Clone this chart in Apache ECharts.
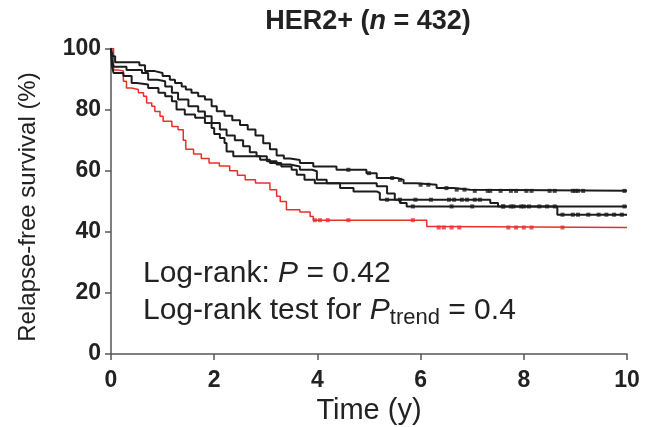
<!DOCTYPE html>
<html><head><meta charset="utf-8">
<script src="https://cdn.jsdelivr.net/npm/echarts@6/dist/echarts.min.js"></script>
<style>html,body{margin:0;padding:0;background:#fff}#c{width:649px;height:427px}</style>
</head><body><div id="c"></div>
<script>
// Kaplan-Meier step points [time (y), survival (%)]
const curveRed = [[0,100],[0.05,93],[0.13,92.6],[0.24,89.3],[0.30,87.1],[0.40,86.6],[0.53,85.5],[0.63,84.4],[0.69,82.2],[0.79,81.1],[0.85,79.4],[0.95,77.8],[1.01,76.2],[1.18,74.5],[1.30,73.4],[1.40,70],[1.45,67],[1.6,65.5],[1.75,64],[1.9,62.5],[2.1,61.5],[2.3,60],[2.45,58.5],[2.6,57],[2.8,56],[3.08,53.8],[3.21,51.6],[3.28,49.9],[3.40,47.2],[3.66,46.5],[3.86,45],[3.92,43.8],[6.12,41.7],[6.28,41.4],[10,41.4]];
const curveA = [[0,100],[0.03,97.5],[0.08,95.5],[0.55,94.5],[0.66,92.6],[0.85,92],[1.0,91],[1.14,89.8],[1.24,88.7],[1.37,87.6],[1.45,86.6],[1.56,85.5],[1.69,84.4],[1.82,83.3],[1.95,81.1],[2.05,79.5],[2.2,78],[2.35,76.5],[2.5,75],[2.65,73.5],[2.8,71.5],[2.95,69],[3.08,67],[3.21,65],[3.35,64],[3.47,63.5],[3.66,62.5],[3.92,61.4],[4.37,60.3],[4.95,59.2],[5.15,57.6],[5.54,57],[5.67,55.9],[5.92,55.4],[6.31,54.3],[6.63,53.8],[6.96,53.4],[10,53.4]];
const curveB = [[0,100],[0.02,96],[0.05,94],[0.3,93],[0.6,92],[0.72,89.8],[0.9,89.3],[1.05,87.6],[1.18,85.5],[1.30,83.3],[1.5,81.1],[1.69,79.4],[1.82,77.8],[1.95,75.6],[2.11,73.5],[2.24,71.5],[2.4,70],[2.56,68],[2.69,66],[2.82,64.7],[3.02,63.1],[3.21,62],[3.47,61.4],[3.66,60.3],[3.9,59.8],[3.99,57],[4.18,55.9],[4.44,54.3],[4.70,53.2],[5.15,52.7],[5.21,50.5],[7.35,49.4],[7.5,48.3],[8.65,45.6],[10,45.6]];
const curveC = [[0,100],[0.02,94],[0.05,92],[0.24,91],[0.40,88.7],[0.5,88.2],[0.72,87.1],[0.92,85.5],[1.05,84.4],[1.18,82.7],[1.27,80],[1.43,78.4],[1.63,77.3],[1.82,75.6],[1.95,74],[2.0,72],[2.11,70.7],[2.2,69.1],[2.24,66.3],[2.37,64.7],[2.8,64.7],[2.89,63.6],[3.08,62.5],[3.3,61.4],[3.5,60.3],[3.6,58.7],[3.75,57],[3.95,55.9],[5.15,54.9],[5.35,52.5],[5.5,50.5],[5.6,49.4],[5.73,48.3],[10,48.3]];
// censor marks [time, survival]
const censRed = [[3.95,43.8],[4.05,43.8],[4.2,43.8],[4.6,43.8],[5.85,43.8],[6.35,41.4],[6.45,41.4],[6.6,41.4],[6.75,41.4],[7.7,41.4],[7.85,41.4],[8.0,41.4],[8.15,41.4],[8.75,41.4]];
const censA = [[4.6,60.3],[5.0,59.2],[5.45,57.6],[5.6,57],[6.0,55.4],[6.15,55.4],[6.5,54.3],[6.7,53.8],[6.85,53.8],[7.05,53.4],[7.3,53.4],[7.35,53.4],[7.55,53.4],[7.75,53.4],[7.85,53.4],[8.05,53.4],[8.15,53.4],[8.5,53.4],[8.6,53.4],[8.95,53.4],[9.0,53.4],[9.05,53.4],[9.15,53.4],[9.95,53.4]];
const censB = [[5.35,50.5],[5.6,50.5],[5.9,50.5],[6.2,50.5],[6.55,50.5],[6.65,50.5],[6.8,50.5],[6.9,50.5],[7.05,50.5],[7.15,50.5],[7.6,48.3],[7.75,48.3],[8.0,48.3],[8.1,48.3],[8.3,48.3],[8.45,48.3],[8.75,45.6],[8.95,45.6],[9.05,45.6],[9.25,45.6],[9.45,45.6],[9.6,45.6],[9.75,45.6],[9.9,45.6]];
const censC = [[5.85,48.3],[6.6,48.3],[7.0,48.3],[7.6,48.3],[7.8,48.3],[7.95,48.3],[8.6,48.3],[9.95,48.3]];
const xTicks = [0,2,4,6,8,10];
const yTicks = [0,20,40,60,80,100];

const FONT = "'Liberation Sans', Arial, Helvetica, sans-serif";
const RED = '#e8302a', BLK = '#1c1c1c', TXT = '#222';
function km(name, data, color, w){
  return {name, type:'line', step:'end', data, showSymbol:false, symbol:'none',
    lineStyle:{color, width:w}, itemStyle:{color}, animation:false, z:3};
}
function cens(data, color){
  return {type:'scatter', data, symbol:'rect', symbolSize:[4,4], itemStyle:{color}, animation:false, z:4};
}
const chart = echarts.init(document.getElementById('c'), null, {renderer:'canvas'});
chart.setOption({
  backgroundColor:'#fff',
  animation:false,
  grid:{left:111, right:22, top:48.5, bottom:73, containLabel:false, outerBoundsMode:'none'},
  xAxis:{type:'value', min:xTicks[0], max:xTicks[xTicks.length-1], interval:2,
    name:'Time (y)', nameLocation:'middle', nameGap:41,
    nameTextStyle:{fontFamily:FONT, fontSize:29, color:TXT},
    axisLine:{lineStyle:{color:'#555', width:1.5}},
    axisTick:{show:true, length:6, lineStyle:{color:'#555', width:1.5}},
    axisLabel:{fontFamily:FONT, fontWeight:'bold', fontSize:23, color:TXT, margin:15},
    splitLine:{show:false}},
  yAxis:{type:'value', min:yTicks[0], max:yTicks[yTicks.length-1], interval:20,
    axisLine:{show:true, lineStyle:{color:'#555', width:1.5}},
    axisTick:{show:true, length:6, lineStyle:{color:'#555', width:1.5}},
    axisLabel:{fontFamily:FONT, fontWeight:'bold', fontSize:23, color:TXT, margin:10},
    splitLine:{show:false}},
  series:[
    km('red', curveRed, RED, 1.5),
    km('A', curveA, BLK, 2),
    km('B', curveB, BLK, 2),
    km('C', curveC, BLK, 2),
    cens(censRed, RED), cens(censA, BLK), cens(censB, BLK), cens(censC, BLK)
  ],
  graphic:[
    {type:'text', x:368, y:22, style:{
      text:'{b|HER2+ (}{i|n}{b| = 432)}', align:'center', verticalAlign:'middle',
      rich:{b:{fontFamily:FONT, fontWeight:'bold', fontSize:27, fill:TXT},
            i:{fontFamily:FONT, fontWeight:'bold', fontStyle:'italic', fontSize:27, fill:TXT}}}},
    {type:'text', x:28, y:207, rotation:Math.PI/2, style:{
      text:'Relapse-free survival (%)', align:'center', verticalAlign:'middle',
      fontFamily:FONT, fontSize:24, fill:TXT}},
    {type:'text', left:143, top:259, style:{
      text:'{a|Log-rank: }{i|P}{a| = 0.42}',
      rich:{a:{fontFamily:FONT, fontSize:30, fill:TXT}, i:{fontFamily:FONT, fontStyle:'italic', fontSize:30, fill:TXT}}}},
    {type:'text', left:143, top:296, style:{
      text:'{a|Log-rank test for }{i|P}{s|trend}{a| = 0.4}',
      rich:{a:{fontFamily:FONT, fontSize:30, fill:TXT}, i:{fontFamily:FONT, fontStyle:'italic', fontSize:30, fill:TXT},
            s:{fontFamily:FONT, fontSize:22, fill:TXT, verticalAlign:'bottom', padding:[14,0,0,0]}}}}
  ]
});
</script></body></html>
